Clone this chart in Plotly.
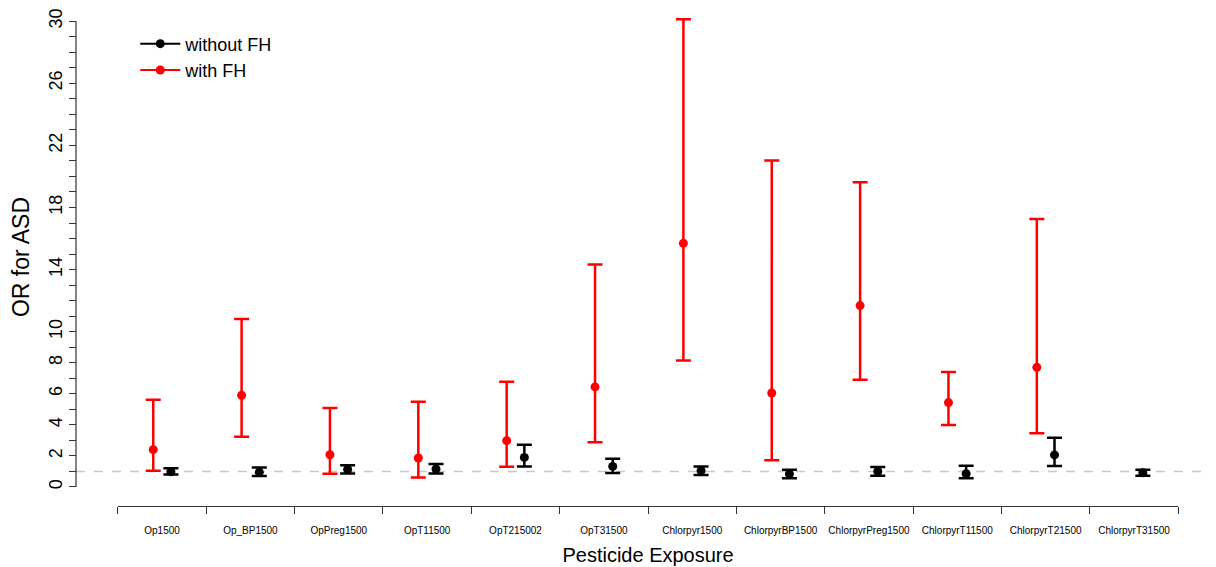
import plotly.graph_objects as go

categories = ["Op1500", "Op_BP1500", "OpPreg1500", "OpT11500", "OpT215002", "OpT31500",
              "Chlorpyr1500", "ChlorpyrBP1500", "ChlorpyrPreg1500", "ChlorpyrT11500",
              "ChlorpyrT21500", "ChlorpyrT31500"]

with_fh_or = [2.40, 5.90, 2.07, 1.86, 2.98, 6.44, 15.69, 6.05, 11.68, 5.43, 7.70, None]
with_fh_lo = [1.04, 3.23, 0.85, 0.61, 1.30, 2.87, 8.15, 1.71, 6.91, 3.99, 3.45, None]
with_fh_hi = [5.62, 10.82, 5.08, 5.49, 6.78, 14.32, 30.12, 21.02, 19.62, 7.40, 17.26, None]

without_fh_or = [0.98, 0.95, 1.12, 1.15, 1.90, 1.32, 1.04, 0.83, 1.00, 0.85, 2.06, 0.91]
without_fh_lo = [0.80, 0.70, 0.87, 0.87, 1.32, 0.90, 0.77, 0.55, 0.72, 0.55, 1.35, 0.72]
without_fh_hi = [1.20, 1.25, 1.40, 1.47, 2.72, 1.82, 1.32, 1.11, 1.28, 1.37, 3.17, 1.11]

y_tick_labels = [0, 2, 4, 6, 8, 10, 14, 18, 22, 26, 30]

FONT = "Arial, Liberation Sans, sans-serif"
AX = "#333333"

n = len(categories)
idx = list(range(n))


def errs(vals, lo, hi):
    plus = [None if v is None else h - v for v, h in zip(vals, hi)]
    minus = [None if v is None else v - l for v, l in zip(vals, lo)]
    return plus, minus


fig = go.Figure()

rp, rm = errs(with_fh_or, with_fh_lo, with_fh_hi)
fig.add_trace(go.Scatter(
    x=[i - 0.1 for i in idx], y=with_fh_or, mode="markers",
    marker=dict(color="#ff0000", size=9),
    error_y=dict(type="data", symmetric=False, array=rp, arrayminus=rm,
                 color="#ff0000", thickness=2.5, width=7.5),
    showlegend=False, hoverinfo="skip", cliponaxis=False))

bp, bm = errs(without_fh_or, without_fh_lo, without_fh_hi)
fig.add_trace(go.Scatter(
    x=[i + 0.1 for i in idx], y=without_fh_or, mode="markers",
    marker=dict(color="#000000", size=9),
    error_y=dict(type="data", symmetric=False, array=bp, arrayminus=bm,
                 color="#000000", thickness=2.5, width=7.5),
    showlegend=False, hoverinfo="skip", cliponaxis=False))

# legend entries
fig.add_trace(go.Scatter(x=[None], y=[None], mode="lines+markers", name="without FH",
                         line=dict(color="#000000", width=2), marker=dict(color="#000000", size=9)))
fig.add_trace(go.Scatter(x=[None], y=[None], mode="lines+markers", name="with FH",
                         line=dict(color="#ff0000", width=2), marker=dict(color="#ff0000", size=9)))

# reference line at OR = 1
fig.add_shape(type="line", xref="paper", yref="y", x0=0, x1=1, y0=1, y1=1,
              line=dict(color="#c8c8c8", width=1.5, dash="dash"), layer="below")
# y axis line from 0 to 30
fig.add_shape(type="line", xref="paper", yref="y", x0=0, x1=0, y0=0, y1=30,
              line=dict(color=AX, width=1.2))

ytickvals = list(range(0, 31))
yticktext = [str(v) if v in y_tick_labels else "" for v in ytickvals]

# page body has an 8px default margin, so the figure is sized to fit inside the window
fig.update_layout(
    width=1208, height=559,
    margin=dict(l=68, r=0, t=0, b=61),
    plot_bgcolor="white", paper_bgcolor="white",
    font=dict(family=FONT, color="#000000"),
    xaxis=dict(
        automargin=False,
        domain=[(109.9 - 68) / 1140, (1170.2 - 68) / 1140],
        range=[-0.5, n - 0.5], showgrid=False, zeroline=False,
        showline=True, linecolor=AX, linewidth=1.2,
        tickmode="array", tickvals=idx, ticktext=categories,
        ticks="outside", ticklen=0, tickcolor="rgba(0,0,0,0)",
        ticklabelstandoff=15,
        tickfont=dict(size=10, family=FONT, color="#000000"),
        minor=dict(tickmode="array", tickvals=[i - 0.5 for i in range(n + 1)],
                   ticks="outside", ticklen=7, tickcolor=AX, tickwidth=1.2, showgrid=False),
        title=dict(text="Pesticide Exposure", font=dict(size=20, family=FONT), standoff=12),
    ),
    yaxis=dict(
        automargin=False,
        anchor="free", position=0,
        range=[-1.23, 30.85], showgrid=False, zeroline=False, showline=False,
        tickmode="array", tickvals=ytickvals, ticktext=yticktext,
        ticks="outside", ticklen=7, tickcolor=AX, tickwidth=1.2,
        tickangle=-90, ticklabeloverflow="allow",
        tickfont=dict(size=18, family=FONT, color="#000000"),
        title=dict(text="OR for ASD", font=dict(size=23, family=FONT), standoff=16),
    ),
    legend=dict(x=0.052, y=0.965, xanchor="left", yanchor="top",
                font=dict(size=18, family=FONT), itemwidth=40,
                bgcolor="rgba(0,0,0,0)", tracegroupgap=0),
)

fig.write_html("out.html")
